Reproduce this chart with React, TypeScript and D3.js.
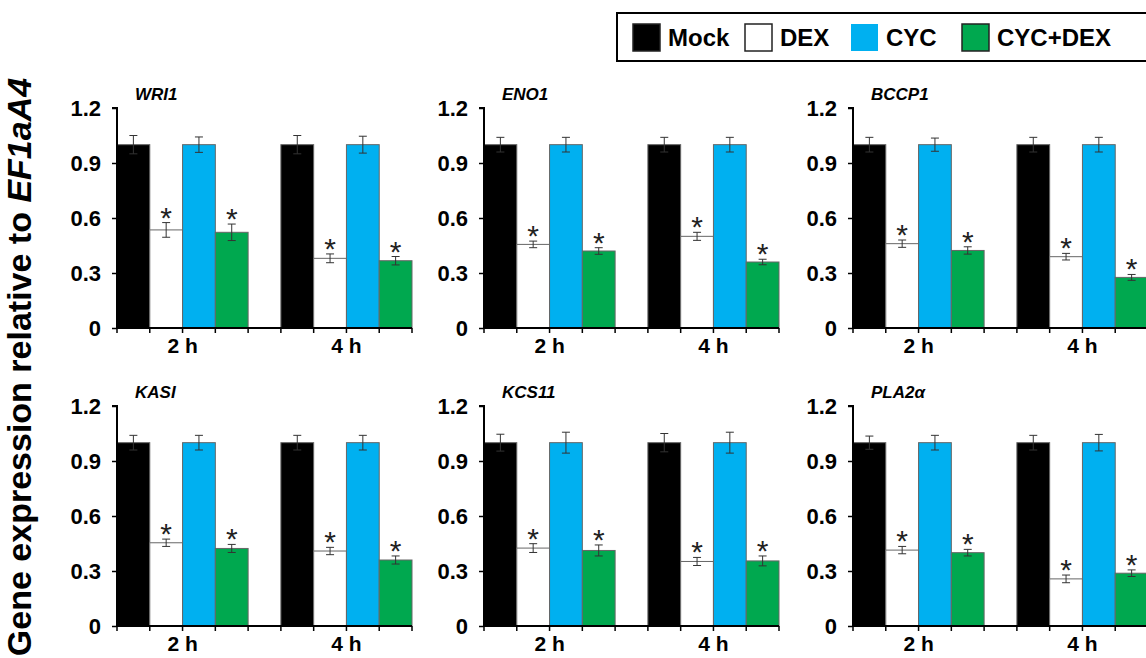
import * as d3 from "d3";
import { useEffect, useRef } from "react";

const genes = ["WRI1", "ENO1", "BCCP1", "KASI", "KCS11", "PLA2α"];
const times = ["2 h", "4 h"];
const treatments = ["Mock", "DEX", "CYC", "CYC+DEX"];
const colors = ["#000000", "#ffffff", "#00b0f0", "#00a84f"];
const starred = [false, true, false, true];
const yTicks = [0, 0.3, 0.6, 0.9, 1.2];

// mean values per gene -> [2 h, 4 h] -> treatments
const means = [
  [[1, 0.535, 1, 0.522], [1, 0.38, 1, 0.367]],
  [[1, 0.456, 1, 0.42], [1, 0.5, 1, 0.36]],
  [[1, 0.46, 1, 0.423], [1, 0.389, 1, 0.276]],
  [[1, 0.454, 1, 0.423], [1, 0.409, 1, 0.36]],
  [[1, 0.425, 1, 0.412], [1, 0.352, 1, 0.355]],
  [[1, 0.414, 1, 0.4], [1, 0.257, 1, 0.288]],
];
const errors = [
  [[0.05, 0.04, 0.042, 0.045], [0.05, 0.024, 0.046, 0.023]],
  [[0.04, 0.018, 0.04, 0.018], [0.04, 0.022, 0.04, 0.015]],
  [[0.04, 0.02, 0.036, 0.02], [0.04, 0.018, 0.04, 0.016]],
  [[0.04, 0.02, 0.04, 0.022], [0.04, 0.02, 0.04, 0.022]],
  [[0.046, 0.024, 0.057, 0.03], [0.05, 0.022, 0.057, 0.027]],
  [[0.036, 0.02, 0.04, 0.018], [0.04, 0.021, 0.045, 0.018]],
];

const W = 1146;
const H = 658;
const FONT = "'Liberation Sans', Arial, sans-serif";

const App = () => {
  const svgRef = useRef<SVGSVGElement>(null);

  useEffect(() => {
    const svg = d3.select(svgRef.current);
    svg.selectAll("*").remove();

    const colX = [117, 484, 853];
    const rowY = [108, 406];
    const panelW = 295;
    const panelH = 220;

    const y = d3.scaleLinear().domain([0, 1.2]).range([panelH, 0]);
    const x0 = d3.scaleBand().domain(times).range([0, panelW]).paddingInner(0.2).paddingOuter(0);
    const x1 = d3.scaleBand().domain(treatments).range([0, x0.bandwidth()]).padding(0);

    genes.forEach((gene, gi) => {
      const g = svg.append("g")
        .attr("transform", `translate(${colX[gi % 3]},${rowY[Math.floor(gi / 3)]})`);

      // bars
      times.forEach((t, ti) => {
        treatments.forEach((tr, k) => {
          const v = means[gi][ti][k];
          g.append("rect")
            .attr("x", x0(t)! + x1(tr)!)
            .attr("y", y(v))
            .attr("width", x1.bandwidth())
            .attr("height", y(0) - y(v))
            .attr("fill", colors[k])
            .attr("stroke", "#666")
            .attr("stroke-width", 1);
        });
      });

      // error bars + asterisks
      times.forEach((t, ti) => {
        treatments.forEach((tr, k) => {
          const v = means[gi][ti][k];
          const e = errors[gi][ti][k];
          const cx = x0(t)! + x1(tr)! + x1.bandwidth() / 2;
          const eg = g.append("g").attr("stroke", "#333").attr("stroke-width", 1);
          eg.append("line").attr("x1", cx).attr("x2", cx).attr("y1", y(v - e)).attr("y2", y(v + e));
          eg.append("line").attr("x1", cx - 4).attr("x2", cx + 4).attr("y1", y(v - e)).attr("y2", y(v - e));
          eg.append("line").attr("x1", cx - 4).attr("x2", cx + 4).attr("y1", y(v + e)).attr("y2", y(v + e));
          if (starred[k]) {
            g.append("text")
              .attr("x", cx)
              .attr("y", y(v + e) + 5)
              .attr("text-anchor", "middle")
              .attr("font-family", FONT)
              .attr("font-size", 30)
              .attr("fill", "#222")
              .text("*");
          }
        });
      });

      // y axis
      const yAxis = d3.axisLeft(y).tickValues(yTicks).tickSize(5).tickPadding(11)
        .tickFormat((d) => (d === 0 ? "0" : d3.format(".1f")(d as number)));
      const ya = g.append("g").call(yAxis);
      ya.select(".domain").attr("stroke", "#000").attr("stroke-width", 2).attr("d", `M-5,0H0V${panelH}`);
      ya.selectAll(".tick line").attr("stroke", "#000").attr("stroke-width", 1.5);
      ya.selectAll(".tick text")
        .attr("font-family", FONT)
        .attr("font-size", 22)
        .attr("font-weight", "bold")
        .attr("fill", "#000");

      // x axis with ticks at every bar boundary
      const xa = g.append("g").attr("transform", `translate(0,${panelH})`);
      xa.append("line").attr("x1", 0).attr("x2", panelW).attr("stroke", "#000").attr("stroke-width", 2);
      times.forEach((t) => {
        d3.range(treatments.length + 1).forEach((i) => {
          const tx = x0(t)! + i * x1.bandwidth();
          xa.append("line").attr("x1", tx).attr("x2", tx).attr("y1", 0).attr("y2", 5)
            .attr("stroke", "#000").attr("stroke-width", 1.5);
        });
        xa.append("text")
          .attr("x", x0(t)! + x0.bandwidth() / 2)
          .attr("y", 25)
          .attr("text-anchor", "middle")
          .attr("font-family", FONT)
          .attr("font-size", 21)
          .attr("font-weight", "bold")
          .text(t);
      });

      // gene name
      g.append("text")
        .attr("x", 18)
        .attr("y", -8)
        .attr("font-family", FONT)
        .attr("font-size", 17)
        .attr("font-weight", "bold")
        .attr("font-style", "italic")
        .text(gene);
    });

    // y axis title
    const yt = svg.append("text")
      .attr("transform", "translate(31,367) rotate(-90)")
      .attr("text-anchor", "middle")
      .attr("font-family", FONT)
      .attr("font-size", 34)
      .attr("font-weight", "bold");
    yt.append("tspan").text("Gene expression relative to ");
    yt.append("tspan").attr("font-style", "italic").text("EF1aA4");

    // legend
    const lg = svg.append("g");
    lg.append("rect").attr("x", 617).attr("y", 13).attr("width", 540).attr("height", 48)
      .attr("fill", "#fff").attr("stroke", "#000").attr("stroke-width", 2);
    const legendX = [633, 745, 851, 962];
    treatments.forEach((tr, k) => {
      lg.append("rect").attr("x", legendX[k]).attr("y", 24).attr("width", 27).attr("height", 27)
        .attr("fill", colors[k]).attr("stroke", k === 2 ? "none" : "#222").attr("stroke-width", 1.5);
      lg.append("text")
        .attr("x", legendX[k] + 35)
        .attr("y", 46)
        .attr("font-family", FONT)
        .attr("font-size", 24)
        .attr("font-weight", "bold")
        .text(tr);
    });
  }, []);

  return (
    <svg
      ref={svgRef}
      width={W}
      height={H}
      style={{ position: "absolute", left: 0, top: 0, background: "#fff" }}
    />
  );
};

export default App;
